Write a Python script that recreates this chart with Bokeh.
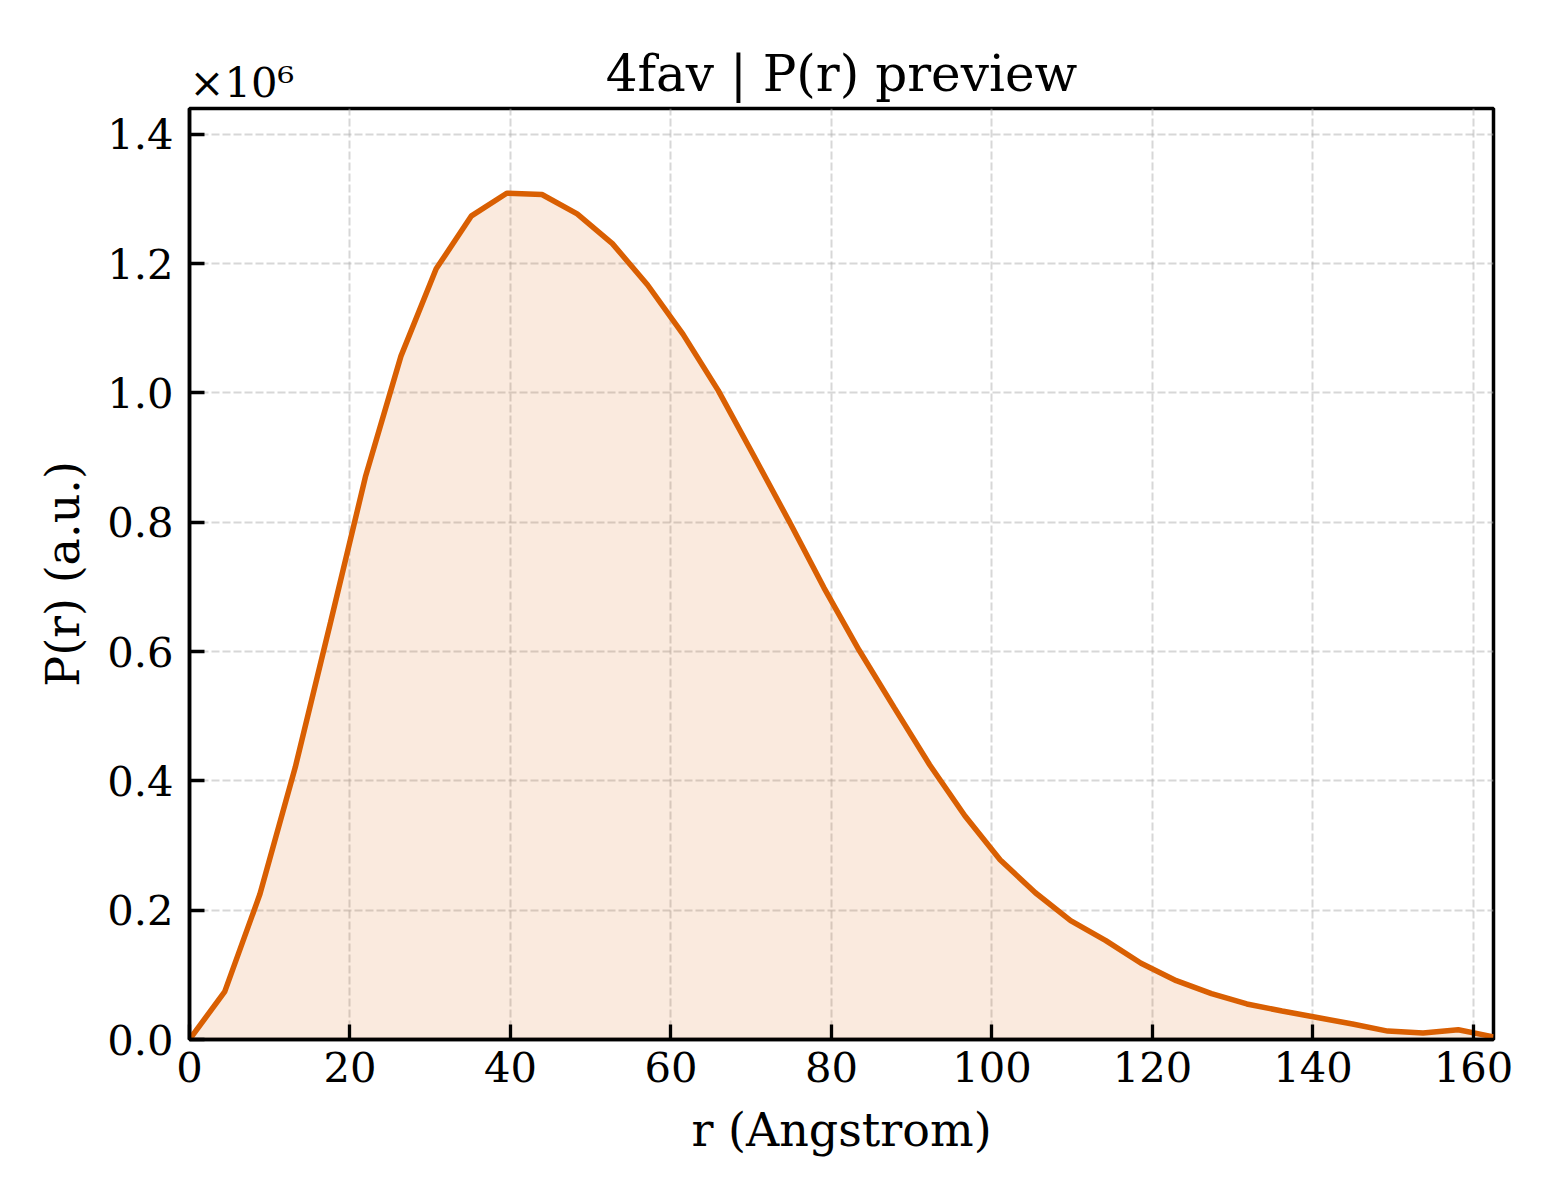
from bokeh.plotting import figure
from bokeh.models import Range1d, FixedTicker, CustomJSTickFormatter, Title
from bokeh.embed import file_html
from bokeh.resources import INLINE

r = [0.0, 4.39, 8.78, 13.18, 17.57, 21.96, 26.35, 30.74, 35.14, 39.53,
     43.92, 48.31, 52.70, 57.09, 61.49, 65.88, 70.27, 74.66, 79.05, 83.45,
     87.84, 92.23, 96.62, 101.01, 105.41, 109.80, 114.19, 118.58, 122.97, 127.36,
     131.76, 136.15, 140.54, 144.93, 149.32, 153.72, 158.11, 162.50]
pr = [0.0, 0.074e6, 0.225e6, 0.421e6, 0.645e6, 0.872e6, 1.057e6, 1.192e6, 1.274e6, 1.309e6,
      1.307e6, 1.277e6, 1.231e6, 1.167e6, 1.091e6, 1.004e6, 0.904e6, 0.803e6, 0.699e6, 0.602e6,
      0.513e6, 0.425e6, 0.346e6, 0.278e6, 0.227e6, 0.184e6, 0.153e6, 0.118e6, 0.091e6, 0.071e6,
      0.055e6, 0.044e6, 0.034e6, 0.024e6, 0.013e6, 0.010e6, 0.015e6, 0.004e6]

x_ticks = [0, 20, 40, 60, 80, 100, 120, 140, 160]
y_ticks = [0, 0.2e6, 0.4e6, 0.6e6, 0.8e6, 1.0e6, 1.2e6, 1.4e6]

FONT = "DejaVu Serif"
ORANGE = "#d95f02"

p = figure(width=1544, height=1184,
           x_range=Range1d(0, 162.5), y_range=Range1d(0, 1.44e6),
           output_backend="svg", toolbar_location=None,
           min_border_left=189, min_border_right=51,
           min_border_top=108, min_border_bottom=145)

# main title sits outside the scale note, so pull it back down onto the same row
p.title.text = "4fav | P(r) preview"
p.title.align = "center"
p.title.standoff = -98
p.title.text_font = FONT
p.title.text_font_size = "50px"
p.title.text_font_style = "normal"
p.title.text_color = "black"

# scale note above the y axis
p.add_layout(Title(text="\u00d710\u2076", align="left", offset=0, standoff=4,
                   text_font=FONT, text_font_size="41.7px",
                   text_font_style="normal", text_color="black"), "above")

p.varea(x=r, y1=0, y2=pr, fill_color=ORANGE, fill_alpha=0.13)
p.line(r, pr, line_color=ORANGE, line_width=5.5)

p.outline_line_color = "black"
p.outline_line_width = 3.5
p.outline_line_alpha = 1

for ax in (p.xaxis, p.yaxis):
    ax.axis_line_width = 3.5
    ax.axis_line_color = "black"
    ax.major_tick_in = 15
    ax.major_tick_out = 0
    ax.major_tick_line_width = 3.3
    ax.minor_tick_line_color = None
    ax.major_label_text_font = FONT
    ax.major_label_text_font_size = "41.7px"
    ax.major_label_text_color = "black"
    ax.axis_label_text_font = FONT
    ax.axis_label_text_font_size = "46px"
    ax.axis_label_text_font_style = "normal"
    ax.axis_label_text_color = "black"

p.xaxis.ticker = FixedTicker(ticks=x_ticks)
p.yaxis.ticker = FixedTicker(ticks=y_ticks)
p.yaxis.formatter = CustomJSTickFormatter(code="return (tick / 1e6).toFixed(1);")
p.xaxis.axis_label = "r (Angstrom)"
p.yaxis.axis_label = "P(r) (a.u.)"
p.xaxis.major_label_standoff = 12
p.yaxis.major_label_standoff = 16
p.xaxis.axis_label_standoff = 18
p.yaxis.axis_label_standoff = 14

p.xgrid.ticker = FixedTicker(ticks=x_ticks)
p.ygrid.ticker = FixedTicker(ticks=y_ticks)
for g in (p.xgrid, p.ygrid):
    g.grid_line_color = "#b0b0b0"
    g.grid_line_alpha = 0.5
    g.grid_line_width = 2
    g.grid_line_dash = "8 3"

p.background_fill_color = "white"
p.border_fill_color = "white"

open("out.html", "w").write(file_html(p, INLINE))
